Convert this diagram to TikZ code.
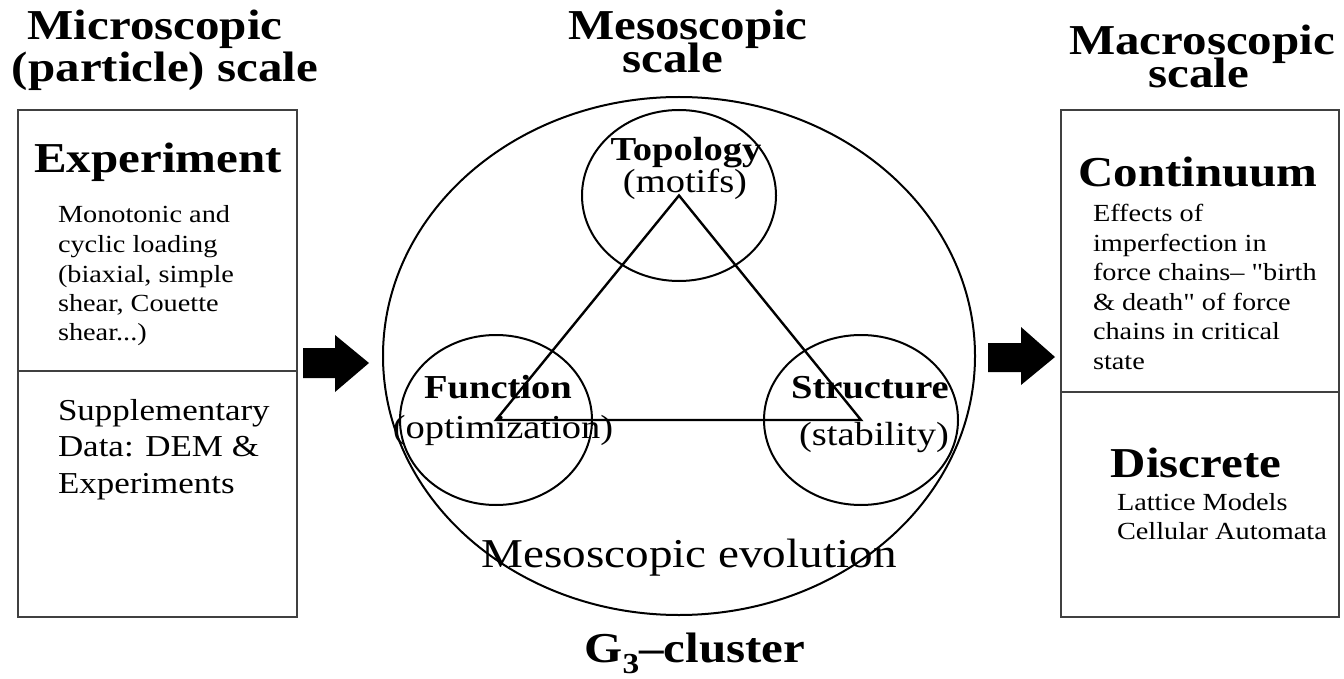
\documentclass[tikz,border=0pt]{standalone}
\usepackage{fontspec}
\setmainfont{Liberation Serif}
\newfontfamily\plainserif{Liberation Serif}
\usetikzlibrary{shapes.geometric}
\definecolor{boxgray}{HTML}{404040}
\newcommand{\hs}[1]{\scalebox{1.15}[1]{#1}}
\newcommand{\headfont}{\fontsize{42.6}{42.6}\selectfont\bfseries}
\newcommand{\ringfont}{\fontsize{33.5}{33.5}\selectfont}
\newcommand{\bodyfont}{\fontsize{24.6}{29.5}\selectfont}
\tikzset{
  txt/.style={inner sep=0pt, outer sep=0pt},
  panel/.style={draw=boxgray, line width=2pt},
  ring/.style={ellipse, draw=black, line width=2pt, inner sep=0pt, outer sep=0pt},
  tri/.style={draw=black, line width=2.4pt, line join=miter},
  fat/.style={fill=black}
}
\begin{document}
\begin{tikzpicture}[x=1pt, y=-1pt]
\useasboundingbox (0,0) rectangle (1344,679);
% titles
\node[txt, anchor=base] (mic1) at (155,40) {\hs{\headfont Microscopic}};
\node[txt, anchor=base] (mic2) at (165,82) {\hs{\headfont (particle) scale}};
\node[txt, anchor=base] (mes1) at (688,40) {\hs{\headfont Mesoscopic}};
\node[txt, anchor=base] (mes2) at (673,73) {\hs{\headfont scale}};
\node[txt, anchor=base] (mac1) at (1202,55) {\hs{\headfont Macroscopic}};
\node[txt, anchor=base] (mac2) at (1199,88) {\hs{\headfont scale}};
% left panel
\draw[panel] (18,110) rectangle (297,371);
\draw[panel] (18,371) rectangle (297,617);
\node[txt, anchor=base] (exp) at (158,173) {\hs{\headfont Experiment}};
\node[txt, anchor=base west] (expbody) at (58,223) {\hs{\bodyfont\begin{tabular}[t]{@{}l@{}}Monotonic and\\cyclic loading\\(biaxial, simple\\shear, Couette\\shear...)\end{tabular}}};
\node[txt, anchor=base west] (supp) at (58,420) {\hs{\fontsize{30.4}{36.5}\selectfont\begin{tabular}[t]{@{}l@{}}Supplementary\\Data: DEM \&\\Experiments\end{tabular}}};
% right panel
\draw[panel] (1061,110) rectangle (1339,392);
\draw[panel] (1061,392) rectangle (1339,617);
\node[txt, anchor=base] (cont) at (1198,187) {\hs{\headfont Continuum}};
\node[txt, anchor=base west] (contbody) at (1093,222) {\hs{\plainserif\bodyfont\begin{tabular}[t]{@{}l@{}}Effects of\\imperfection in\\force chains– "birth\\\& death" of force\\chains in critical\\state\end{tabular}}};
\node[txt, anchor=base] (disc) at (1196,477) {\hs{\headfont Discrete}};
\node[txt, anchor=base west] (discbody) at (1117,510) {\hs{\bodyfont\begin{tabular}[t]{@{}l@{}}Lattice Models\\Cellular Automata\end{tabular}}};
% mesoscopic cluster
\node[ring, minimum width=592, minimum height=518] (big) at (679,356) {};
\node[ring, minimum width=194, minimum height=171] (topo) at (679,195.5) {};
\node[ring, minimum width=192, minimum height=170] (func) at (496,420) {};
\node[ring, minimum width=194, minimum height=170] (struc) at (861,420) {};
\draw[tri] (topo.center) -- (func.center) -- (struc.center) -- cycle;
\node[txt, anchor=base] (topot) at (686,161) {\hs{\ringfont\bfseries Topology}};
\node[txt, anchor=base] (topos) at (685,193) {\hs{\ringfont (motifs)}};
\node[txt, anchor=base] (funct) at (498,398) {\hs{\ringfont\bfseries Function}};
\node[txt, anchor=base] (funcs) at (503,438) {\hs{\ringfont (optimization)}};
\node[txt, anchor=base] (struct) at (870,398) {\hs{\ringfont\bfseries Structure}};
\node[txt, anchor=base] (strucs) at (874,445) {\hs{\ringfont (stability)}};
\node[txt, anchor=base] (evol) at (689,567) {\hs{\fontsize{41}{41}\selectfont Mesoscopic evolution}};
\node[txt, anchor=base] (g3) at (695,662) {\hs{\headfont G\raisebox{-0.26em}{\fontsize{29}{29}\selectfont 3}–cluster}};
% fat arrows
\fill[fat] (303,348) -- (335,348) -- (335,335) -- (369,363) -- (335,392) -- (335,378) -- (303,378) -- cycle;
\fill[fat] (988,343) -- (1021,343) -- (1021,327) -- (1055,357) -- (1021,385) -- (1021,372) -- (988,372) -- cycle;
\end{tikzpicture}
\end{document}
